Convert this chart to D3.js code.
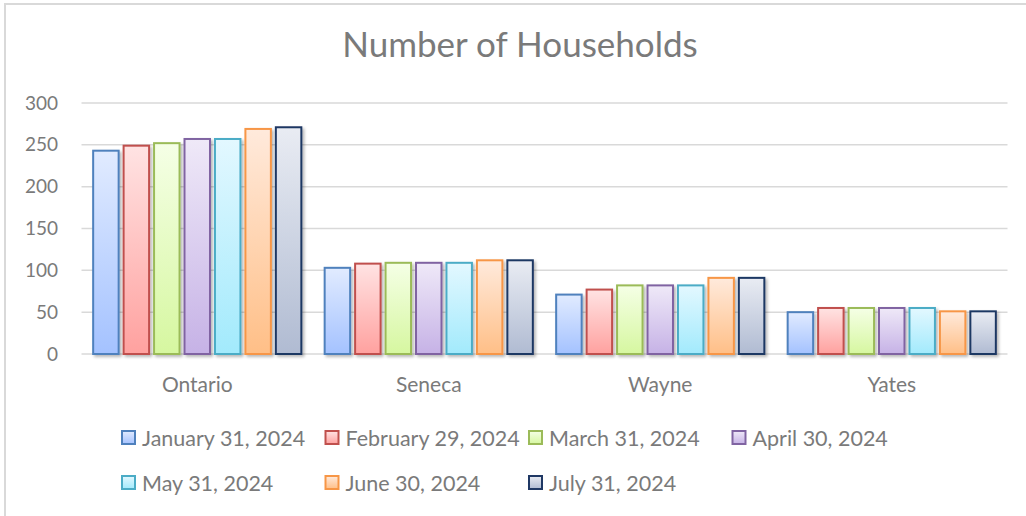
<!DOCTYPE html>
<html lang="en">
<head>
    <meta charset="UTF-8" />
    <title>Number of Households</title>
    <script src="https://d3js.org/d3.v7.min.js"></script>
    <style>
        body { margin: 0; background: #ffffff; font-family: Lato, "Open Sans", sans-serif; }
    </style>
</head>
<body>
<div id="chart"></div>
<script>
    // data
    var counties = ["Ontario", "Seneca", "Wayne", "Yates"];
    var dates = ["January 31, 2024", "February 29, 2024", "March 31, 2024", "April 30, 2024",
                 "May 31, 2024", "June 30, 2024", "July 31, 2024"];
    var jan = [243, 103, 71, 50];
    var feb = [249, 108, 77, 55];
    var mar = [252, 109, 82, 55];
    var apr = [257, 109, 82, 55];
    var may = [257, 109, 82, 55];
    var jun = [269, 112, 91, 51];
    var jul = [271, 112, 91, 51];
    var yTicks = [0, 50, 100, 150, 200, 250, 300];

    var seriesValues = [jan, feb, mar, apr, may, jun, jul];

    // stroke, gradient top, gradient bottom
    var palette = [
        ["#4f81bd", "#e1ebff", "#a4c2ff"],
        ["#c0504d", "#ffe3e3", "#ffa19f"],
        ["#9bbb59", "#f5ffe6", "#d6f7a0"],
        ["#8064a2", "#efe9f8", "#c6b2e6"],
        ["#4bacc6", "#e3f8ff", "#a2eafc"],
        ["#f79646", "#ffeadc", "#ffbf87"],
        ["#1f3864", "#e9ecf3", "#b0bbd2"]
    ];

    var w = 1026, h = 516;
    var textColor = "#7a7a7a";

    var svg = d3.select("#chart").append("svg")
        .attr("width", w)
        .attr("height", h);

    var defs = svg.append("defs");
    palette.forEach(function(p, i) {
        var g = defs.append("linearGradient")
            .attr("id", "grad" + i)
            .attr("x1", 0).attr("y1", 0).attr("x2", 0).attr("y2", 1);
        g.append("stop").attr("offset", "0%").attr("stop-color", p[1]);
        g.append("stop").attr("offset", "100%").attr("stop-color", p[2]);
    });
    defs.append("filter")
        .attr("id", "shadow")
        .attr("x", "-20%").attr("y", "-20%").attr("width", "150%").attr("height", "150%")
        .append("feDropShadow")
        .attr("dx", 2).attr("dy", 2).attr("stdDeviation", 1.6)
        .attr("flood-color", "#000").attr("flood-opacity", 0.28);

    // chart border (top and left only visible)
    svg.append("line").attr("x1", 4).attr("x2", w).attr("y1", 4).attr("y2", 4)
        .attr("stroke", "#d9d9d9").attr("stroke-width", 2);
    svg.append("line").attr("x1", 5).attr("x2", 5).attr("y1", 4).attr("y2", h)
        .attr("stroke", "#d9d9d9").attr("stroke-width", 2);

    // title
    svg.append("text")
        .attr("x", 520).attr("y", 57)
        .attr("text-anchor", "middle")
        .attr("fill", textColor)
        .style("font-size", "35px")
        .text("Number of Households");

    var x = d3.scaleBand().domain(counties).range([81.5, 1007.5]);
    var xInner = d3.scaleBand().domain(dates).range([0, x.bandwidth()])
        .paddingInner(0.163).paddingOuter(0.383);
    var y = d3.scaleLinear().domain([0, 300]).range([354, 103]);

    // gridlines
    svg.append("g")
        .selectAll("line")
        .data(yTicks)
        .enter()
        .append("line")
        .attr("x1", 81.5).attr("x2", 1007.5)
        .attr("y1", function(d) { return y(d); })
        .attr("y2", function(d) { return y(d); })
        .attr("stroke", "#d9d9d9")
        .attr("stroke-width", 1.5);

    // y axis labels
    var yAxis = svg.append("g")
        .attr("transform", "translate(66,0)")
        .call(d3.axisLeft(y).tickValues(yTicks).tickSize(0).tickPadding(8));
    yAxis.select(".domain").remove();
    yAxis.selectAll("text")
        .attr("fill", textColor)
        .style("font-family", "Lato, sans-serif")
        .style("font-size", "19px");

    // x axis labels
    var xAxis = svg.append("g")
        .attr("transform", "translate(0,371)")
        .call(d3.axisBottom(x).tickSize(0).tickPadding(6));
    xAxis.select(".domain").remove();
    xAxis.selectAll("text")
        .attr("fill", textColor)
        .style("font-family", "Lato, sans-serif")
        .style("font-size", "21px");

    // bars
    var bars = svg.append("g").attr("filter", "url(#shadow)");
    seriesValues.forEach(function(vals, si) {
        bars.selectAll(".s" + si)
            .data(vals)
            .enter()
            .append("rect")
            .attr("class", "s" + si)
            .attr("x", function(d, i) { return x(counties[i]) + xInner(dates[si]); })
            .attr("y", function(d) { return y(d); })
            .attr("width", xInner.bandwidth())
            .attr("height", function(d) { return y(0) - y(d); })
            .attr("fill", "url(#grad" + si + ")")
            .attr("stroke", palette[si][0])
            .attr("stroke-width", 2);
    });

    // legend: 4 columns, 2 rows
    var legend = svg.append("g");
    var item = legend.selectAll("g")
        .data(dates)
        .enter()
        .append("g")
        .attr("transform", function(d, i) {
            return "translate(" + (122 + (i % 4) * 203.5) + "," + (431 + Math.floor(i / 4) * 45) + ")";
        });
    item.append("rect")
        .attr("width", 13).attr("height", 13)
        .attr("fill", function(d, i) { return "url(#grad" + i + ")"; })
        .attr("stroke", function(d, i) { return palette[i][0]; })
        .attr("stroke-width", 2);
    item.append("text")
        .attr("x", 20).attr("y", 14.5)
        .attr("fill", textColor)
        .style("font-size", "21.5px")
        .text(function(d) { return d; });
</script>
</body>
</html>
